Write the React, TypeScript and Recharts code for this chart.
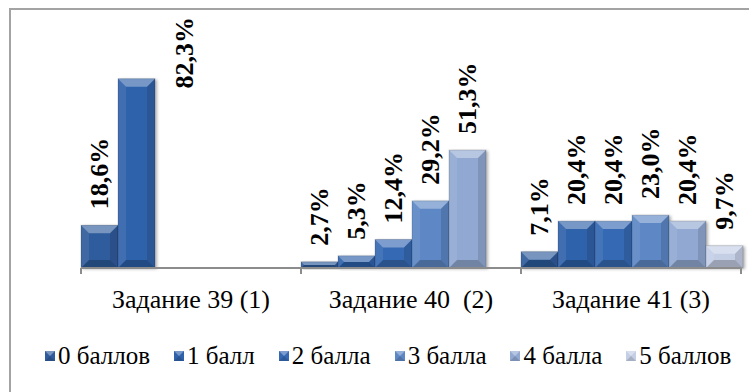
import React from "react";
import { BarChart, Bar, XAxis, YAxis, LabelList } from "recharts";

const categories = ["Задание 39 (1)", "Задание 40  (2)", "Задание 41 (3)"];
const seriesNames = ["0 баллов", "1 балл", "2 балла", "3 балла", "4 балла", "5 баллов"];

// % по каждому количеству баллов, по заданиям 39, 40, 41
const score0 = [18.6, 2.7, 7.1];
const score1 = [82.3, 5.3, 20.4];
const score2 = [null, 12.4, 20.4];
const score3 = [null, 29.2, 23.0];
const score4 = [null, 51.3, 20.4];
const score5 = [null, null, 9.7];

const allScores = [score0, score1, score2, score3, score4, score5];

const COLORS = ["#2f5c9c", "#2f62aa", "#3669b3", "#5d87c5", "#91a9d2", "#c4cfe6"];

const FONT = "'Liberation Serif', 'Times New Roman', serif";
const W = 749;
const H = 392;
const M = { top: 38, right: 8, bottom: 94, left: 81 };
const CAT_W = (W - M.left - M.right) / categories.length;

const data = categories.map((name, i) => {
  const row: Record<string, any> = { name };
  allScores.forEach((s, k) => {
    row["s" + k] = s[i];
  });
  return row;
});

const fmt = (v: number) => v.toFixed(1).replace(".", ",") + "%";

const BevelBar = (props: any) => {
  const { x, y, width, height, fill } = props;
  if (!height || height <= 0) return null;
  const b = Math.min(8, height / 2, width / 4);
  const r = x + width;
  const btm = y + height;
  return (
    <g filter="url(#barShadow)">
      <rect x={x} y={y} width={width} height={height} fill={fill} />
      <polygon
        points={`${x},${y} ${r},${y} ${r - b},${y + b} ${x + b},${y + b}`}
        fill="#ffffff"
        fillOpacity={0.35}
      />
      <polygon
        points={`${x},${y} ${x + b},${y + b} ${x + b},${btm - b} ${x},${btm}`}
        fill="#ffffff"
        fillOpacity={0.08}
      />
      <polygon
        points={`${r},${y} ${r},${btm} ${r - b},${btm - b} ${r - b},${y + b}`}
        fill="#000000"
        fillOpacity={0.12}
      />
      <polygon
        points={`${x},${btm} ${r},${btm} ${r - b},${btm - b} ${x + b},${btm - b}`}
        fill="#000000"
        fillOpacity={0.22}
      />
      <rect x={x} y={y} width={width} height={height} fill="none" stroke="#000" strokeOpacity={0.15} />
    </g>
  );
};

const ValueLabel = (props: any) => {
  const { x, y, width, value } = props;
  if (value == null) return null;
  let cx = x + width / 2;
  let ty = y - 16;
  let anchor = "start";
  // не помещается над столбцом — сдвигаем вправо, к верху
  if (ty - 80 < 10) {
    cx = cx + 48;
    ty = 17;
    anchor = "end";
  }
  return (
    <text
      x={cx}
      y={ty}
      transform={`rotate(-90 ${cx} ${ty})`}
      textAnchor={anchor}
      dominantBaseline="central"
      style={{ fontFamily: FONT, fontWeight: "bold", fontSize: 26 }}
      fill="#000"
    >
      {fmt(value)}
    </text>
  );
};

const CatTick = (props: any) => {
  const { x, y, payload, index } = props;
  const left = x - CAT_W / 2;
  const right = x + CAT_W / 2;
  return (
    <g>
      <line x1={left} y1={y} x2={left} y2={y + 6} stroke="#8c8c8c" strokeWidth={2} />
      {index === categories.length - 1 && (
        <line x1={right} y1={y} x2={right} y2={y + 6} stroke="#8c8c8c" strokeWidth={2} />
      )}
      <text
        x={x}
        y={y + 31}
        textAnchor="middle"
        dominantBaseline="central"
        fill="#000"
        style={{ whiteSpace: "pre", fontFamily: FONT, fontSize: 26 }}
      >
        {payload.value}
      </text>
    </g>
  );
};

const LegendIcon = ({ color }: { color: string }) => (
  <svg width={10} height={10} style={{ marginRight: 3, display: "block" }}>
    <rect x={0} y={0} width={10} height={10} fill={color} />
    <polygon points="0,0 10,0 5,5" fill="#fff" fillOpacity={0.35} />
    <polygon points="0,10 10,10 5,5" fill="#000" fillOpacity={0.15} />
  </svg>
);

export default function App() {
  return (
    <div
      style={{
        position: "absolute",
        left: 0,
        top: 0,
        width: W,
        height: H,
        overflow: "hidden",
        background: "#fff",
      }}
    >
      <div
        style={{
          position: "absolute",
          left: 9,
          top: 8,
          width: 800,
          height: 500,
          border: "2px solid #a3a3a3",
          boxSizing: "border-box",
        }}
      />
      <div style={{ position: "absolute", left: 0, top: 0 }}>
        <BarChart width={W} height={H} data={data} margin={M} barCategoryGap={0} barGap={0}>
          <defs>
            <filter id="barShadow" x="-20%" y="-20%" width="150%" height="140%">
              <feDropShadow dx={2} dy={1} stdDeviation={1.5} floodColor="#000" floodOpacity={0.3} />
            </filter>
          </defs>
          <YAxis hide domain={[0, 100]} />
          <XAxis
            dataKey="name"
            height={30}
            interval={0}
            tickSize={0}
            tickMargin={0}
            axisLine={{ stroke: "#8c8c8c", strokeWidth: 2 }}
            tickLine={false}
            tick={<CatTick />}
          />
          {seriesNames.map((n, k) => (
            <Bar
              key={n}
              dataKey={"s" + k}
              name={n}
              fill={COLORS[k]}
              shape={<BevelBar />}
              isAnimationActive={false}
            >
              <LabelList dataKey={"s" + k} content={<ValueLabel />} />
            </Bar>
          ))}
        </BarChart>
      </div>
      <div
        style={{
          position: "absolute",
          left: 45,
          top: 342,
          display: "flex",
          alignItems: "center",
          fontFamily: FONT,
          fontSize: 25,
          color: "#000",
          whiteSpace: "nowrap",
        }}
      >
        {seriesNames.map((n, k) => (
          <div key={n} style={{ display: "flex", alignItems: "center", marginRight: 24 }}>
            <LegendIcon color={COLORS[k]} />
            <span>{n}</span>
          </div>
        ))}
      </div>
    </div>
  );
}
